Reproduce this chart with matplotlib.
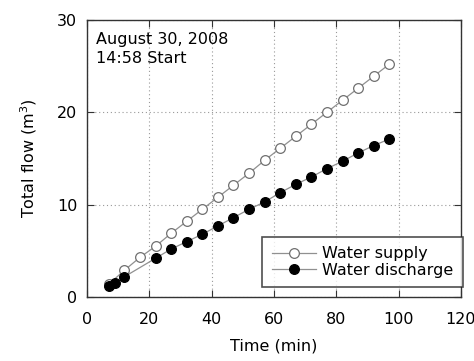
import matplotlib
matplotlib.use("Agg")
import matplotlib.pyplot as plt

plt.rcParams['font.family'] = ['DejaVu Sans']

time_supply = [7, 12, 17, 22, 27, 32, 37, 42, 47, 52, 57, 62, 67, 72, 77, 82, 87, 92, 97]
flow_supply = [1.4, 2.9, 4.3, 5.5, 6.9, 8.2, 9.5, 10.8, 12.1, 13.4, 14.8, 16.1, 17.4, 18.7, 20.0, 21.3, 22.6, 23.9, 25.2]
time_discharge = [7, 9, 12, 22, 27, 32, 37, 42, 47, 52, 57, 62, 67, 72, 77, 82, 87, 92, 97]
flow_discharge = [1.2, 1.5, 2.2, 4.2, 5.2, 6.0, 6.8, 7.7, 8.6, 9.5, 10.3, 11.3, 12.2, 13.0, 13.9, 14.7, 15.6, 16.4, 17.1]
x_ticks = [0, 20, 40, 60, 80, 100, 120]
y_ticks = [0, 10, 20, 30]

fig = plt.figure(figsize=(4.74, 3.61), dpi=100)
ax = fig.add_axes([0.1835, 0.177, 0.789, 0.768])

ax.plot(time_supply, flow_supply, '-o', color='#909090', lw=0.9, ms=7,
        mfc='white', mec='#707070', mew=0.9, label='Water supply', zorder=3)
ax.plot(time_discharge, flow_discharge, '-o', color='#909090', lw=0.9, ms=7,
        mfc='black', mec='black', mew=0.9, label='Water discharge', zorder=4)

ax.set_xlim(0, 120)
ax.set_ylim(0, 30)
ax.set_xticks(x_ticks)
ax.set_yticks(y_ticks)
ax.grid(True, linestyle=(0, (1, 2.5)), color='#999999', lw=0.8)
ax.tick_params(direction='in', top=True, right=True, length=5, labelsize=11.5, color='#333333')
ax.tick_params(axis='x', pad=11)
ax.tick_params(axis='y', pad=7)
for s in ax.spines.values():
    s.set_color('#333333')
    s.set_linewidth(1.0)

ax.set_xlabel('Time (min)', fontsize=11.5, labelpad=8)
ax.set_ylabel('Total flow (m$^3$)', fontsize=11.5, labelpad=13)

ax.text(0.025, 0.955, 'August 30, 2008\n14:58 Start', transform=ax.transAxes,
        fontsize=11.5, va='top', ha='left', linespacing=1.3)

leg = ax.legend(loc='lower right', bbox_to_anchor=(1.005, 0.035), fontsize=11.5,
                frameon=True, fancybox=False,
                edgecolor='#222222', borderaxespad=0.0, handlelength=2.75,
                handletextpad=0.4, borderpad=0.6, labelspacing=0.1)
leg.get_frame().set_linewidth(1.2)

fig.savefig('out.png', dpi=100)
